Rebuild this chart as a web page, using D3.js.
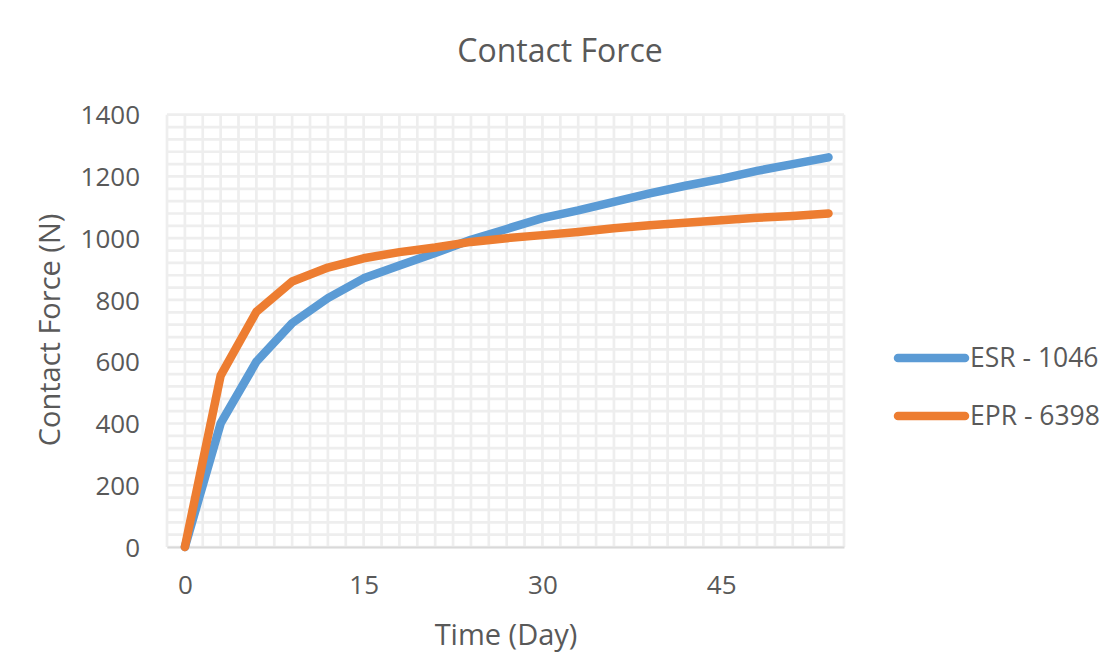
<!DOCTYPE html>
<html><head><meta charset="utf-8">
<script src="https://cdn.jsdelivr.net/npm/d3@7"></script>
<style>
html,body{margin:0;padding:0;background:#fff;}
text{font-family:"Open Sans",sans-serif;fill:#595959;}
</style></head>
<body>
<svg id="chart" width="1110" height="653"></svg>
<script>
const days = [0,3,6,9,12,15,18,21,24,27,30,33,36,39,42,45,48,51,54];
const esr = [0,400,600,725,806,870,912,952,995,1030,1065,1090,1118,1145,1170,1192,1218,1240,1262];
const epr = [0,555,762,860,905,935,955,970,988,1000,1010,1020,1032,1042,1050,1058,1066,1072,1080];
const xTicks = [0,15,30,45];
const yTicks = [0,200,400,600,800,1000,1200,1400];
const seriesNames = ["ESR - 1046","EPR - 6398"];
const colors = ["#5b9bd5","#ed7d31"];

const svg = d3.select("#chart");
const L=167,R=844,T=114.7,B=547;
const x = d3.scaleLinear().domain([-1.5,55.3]).range([L,R]);
const y = d3.scaleLinear().domain([0,1400]).range([B,T]);

// minor gridlines
const g = svg.append("g");
const hMinor = d3.range(0,1401,40);
g.selectAll("line.h").data(hMinor).enter().append("line")
  .attr("x1",L).attr("x2",R).attr("y1",d=>y(d)).attr("y2",d=>y(d))
  .attr("stroke","#eeeeee").attr("stroke-width",2.7);
const vMinor = d3.range(-1.5,55.3,1.5).concat([55.3]);
g.selectAll("line.v").data(vMinor).enter().append("line")
  .attr("x1",d=>x(d)).attr("x2",d=>x(d)).attr("y1",T).attr("y2",B)
  .attr("stroke","#eeeeee").attr("stroke-width",2.7);

// bottom axis line
const xAxis = d3.axisBottom(x).tickValues(xTicks).tickSize(0).tickPadding(0).tickFormat(d3.format("d"));
const xa = svg.append("g").attr("transform",`translate(0,${B})`).call(xAxis);
xa.select(".domain").attr("stroke","#d9d9d9").attr("stroke-width",2);
xa.selectAll("text").attr("font-size",26).attr("y",47).attr("dy",0).style("font-family","Open Sans").attr("fill","#595959");

const yAxis = d3.axisLeft(y).tickValues(yTicks).tickSize(0).tickPadding(0).tickFormat(d3.format("d"));
const ya = svg.append("g").attr("transform",`translate(${L-27},0)`).call(yAxis);
ya.select(".domain").remove();
ya.selectAll("text").attr("font-size",26).attr("dy","0.35em").style("font-family","Open Sans").attr("fill","#595959");

// lines
const line = d3.line().x((d,i)=>x(days[i])).y(d=>y(d));
[esr,epr].forEach((s,i)=>{
  svg.append("path").datum(s).attr("d",line).attr("fill","none")
    .attr("stroke",colors[i]).attr("stroke-width",8.5)
    .attr("stroke-linecap","round").attr("stroke-linejoin","round");
});

// title
svg.append("text").attr("x",560).attr("y",62).attr("text-anchor","middle")
  .attr("font-size",32).text("Contact Force");
// axis titles
svg.append("text").attr("x",506).attr("y",645).attr("text-anchor","middle")
  .attr("font-size",29).text("Time (Day)");
svg.append("text").attr("transform","translate(60,330) rotate(-90)").attr("text-anchor","middle")
  .attr("font-size",29).text("Contact Force (N)");

// legend
const lg = svg.append("g");
seriesNames.forEach((n,i)=>{
  const yy = [358,416][i];
  lg.append("line").attr("x1",898).attr("x2",965).attr("y1",yy).attr("y2",yy)
    .attr("stroke",colors[i]).attr("stroke-width",8.5).attr("stroke-linecap","round");
  lg.append("text").attr("x",970).attr("y",yy).attr("dy","0.35em").attr("font-size",26.5).text(n);
});
</script>
</body></html>
